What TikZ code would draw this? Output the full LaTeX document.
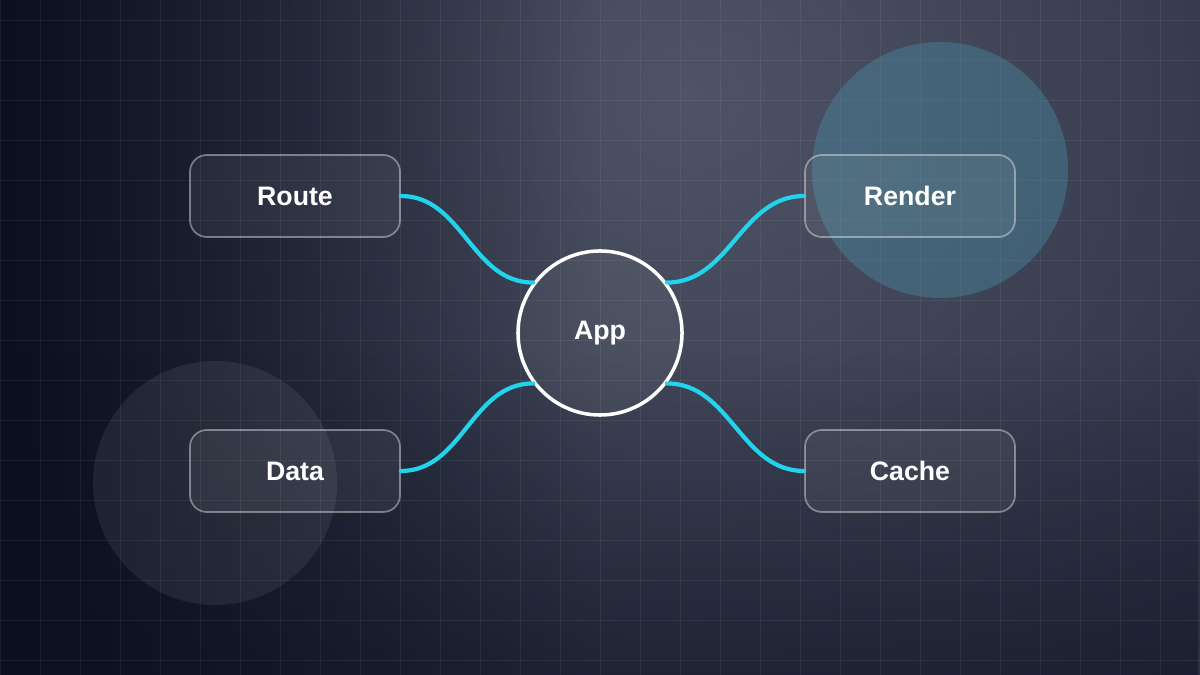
\documentclass[tikz,border=0pt]{standalone}
\usepackage{fontspec}
\setmainfont{Liberation Sans}
\usetikzlibrary{positioning,fadings}
\definecolor{bgdark}{HTML}{0B1020}
\definecolor{bgmid}{HTML}{1F2637}
\definecolor{bglight}{HTML}{4E5365}
\definecolor{linkcyan}{HTML}{22D3EE}
\definecolor{blobteal}{HTML}{4A8FA8}
\tikzset{
  box/.style={draw=white!70,draw opacity=0.4,line width=1.2pt,fill=white,fill opacity=0.06,text opacity=1,
    rounded corners=12pt,minimum width=5.25cm,minimum height=2.05cm,text=white,font=\bfseries\fontsize{19}{22}\selectfont},
  hub/.style={circle,draw=white,line width=2.5pt,fill=white,fill opacity=0.05,text opacity=1,
    minimum size=4.1cm,text=white,font=\bfseries\fontsize{19}{22}\selectfont},
  link/.style={linkcyan,line width=3pt,line cap=round}
}
\begin{document}
\begin{tikzpicture}[x=0.025cm,y=0.025cm]
	\useasboundingbox (0,0) rectangle (1200,675);
	% background
	\begin{scope}
		\clip (0,0) rectangle (1200,675);
		\fill[bgmid] (0,0) rectangle (1200,675);
		\shade[inner color=bglight,outer color=bgmid] (690,580) circle (1000);
		\fill[bgdark,path fading=east] (0,0) rectangle (600,675);
		\fill[bgdark,opacity=0.5,path fading=north] (0,0) rectangle (1200,320);
	\end{scope}
	\foreach \x in {0,40,...,1200} \draw[white,opacity=0.06] (\x,0) -- (\x,675);
	\foreach \y in {15,55,...,675} \draw[white,opacity=0.06] (0,\y) -- (1200,\y);
	% blobs
	\fill[blobteal,opacity=0.4] (940,505) circle (128);
	\fill[white,opacity=0.07] (215,192) circle (122);
	% nodes
	\node[hub] (app) at (600,342) {App};
	\node[box] (route) at (295,479) {Route};
	\node[box] (render) at (910,479) {Render};
	\node[box] (data) at (295,204) {Data};
	\node[box] (cache) at (910,204) {Cache};
	% links
	\draw[link] (route.east) to[out=0,in=180] (app.143);
	\draw[link] (render.west) to[out=180,in=0] (app.37);
	\draw[link] (data.east) to[out=0,in=180] (app.217);
	\draw[link] (cache.west) to[out=180,in=0] (app.323);
\end{tikzpicture}
\end{document}
